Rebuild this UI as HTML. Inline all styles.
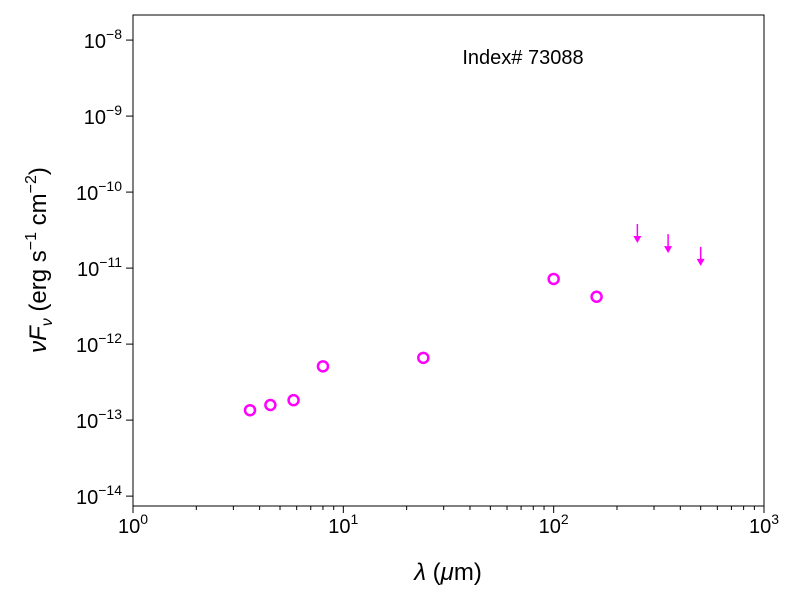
<!DOCTYPE html>
<html><head><meta charset="utf-8"><style>body{margin:0;background:#fff}svg{display:block;font-family:"Liberation Sans",sans-serif}</style></head>
<body>
<svg id="chart" width="800" height="600">
<rect x="133" y="15" width="631" height="491" fill="none" stroke="#000" stroke-width="1"/>
<g id="ticks"></g><g id="marks"></g>
<text x="523" y="64" font-size="20" text-anchor="middle">Index# 73088</text>
<text x="448" y="580" font-size="24" text-anchor="middle"><tspan font-style="italic">λ</tspan> (<tspan font-style="italic">μ</tspan>m)</text>
<text transform="translate(46,260) rotate(-90)" font-size="24" text-anchor="middle"><tspan font-style="italic">νF</tspan><tspan font-style="italic" font-size="16" dy="6">ν</tspan><tspan dy="-6"> (erg s</tspan><tspan font-size="16" dy="-10">−1</tspan><tspan dy="10"> cm</tspan><tspan font-size="16" dy="-10">−2</tspan><tspan dy="10">)</tspan></text>
</svg>
<script>
const detWl=[3.6,4.5,5.8,8.0,24,100,160];
const detFlux=[1.35e-13,1.58e-13,1.83e-13,5.1e-13,6.6e-13,7.2e-12,4.2e-12];
const limWl=[250,350,500];
const limFlux=[3.8e-11,2.8e-11,1.9e-11];
const xTickExp=[0,1,2,3];
const yTickExp=[-14,-13,-12,-11,-10,-9,-8];
const NS="http://www.w3.org/2000/svg";
const X0=133,X1=764,Y0=506,Y1=15,LX0=0,LX1=3,LY0=-14.13,LY1=-7.67;
const sx=v=>X0+(Math.log10(v)-LX0)/(LX1-LX0)*(X1-X0);
const sy=v=>Y0-(Math.log10(v)-LY0)/(LY1-LY0)*(Y0-Y1);
function mk(tag,attrs,parent){const e=document.createElementNS(NS,tag);for(const k in attrs)e.setAttribute(k,attrs[k]);parent.appendChild(e);return e;}
const T=document.getElementById('ticks'),M=document.getElementById('marks');
xTickExp.forEach(p=>{const x=sx(Math.pow(10,p));
 const l=mk('line',{x1:x,x2:x,y1:Y0,y2:Y0+7,stroke:'#000'},T);
 
 
 const t=mk('text',{x:x,y:533,'font-size':20,'text-anchor':'middle'},T);
 
 
 t.innerHTML='10<tspan font-size="14" dy="-9">'+p+'</tspan>';
 if(p<3)for(let k=2;k<10;k++){const xm=sx(k*Math.pow(10,p));
  const m=mk('line',{x1:xm,x2:xm,y1:Y0,y2:Y0+4,stroke:'#000'},T);
  
  }
});
yTickExp.forEach(p=>{const y=sy(Math.pow(10,p));
 const l=mk('line',{x1:X0-7,x2:X0,y1:y,y2:y,stroke:'#000'},T);
 
 
 const t=mk('text',{x:122,y:y+8,'font-size':20,'text-anchor':'end'},T);
 
 
 t.innerHTML='10<tspan font-size="14" dy="-9">'+(p<0?'−'+(-p):p)+'</tspan>';
});
detWl.forEach((w,i)=>{const c=mk('circle',{cx:sx(w),cy:sy(detFlux[i]),r:5,fill:'none',stroke:'#ff00ff','stroke-width':2.5},M);
 
 });
limWl.forEach((w,i)=>{const x=sx(w),y=sy(limFlux[i]);
 const g=mk('g',{},M);
 
 
 mk('line',{x1:x,x2:x,y1:y,y2:y+14,stroke:'#ff00ff','stroke-width':1.5},g);
 mk('polygon',{points:`${x-4},${y+12} ${x+4},${y+12} ${x},${y+19}`,fill:'#ff00ff'},g);});
</script>
</body></html>
